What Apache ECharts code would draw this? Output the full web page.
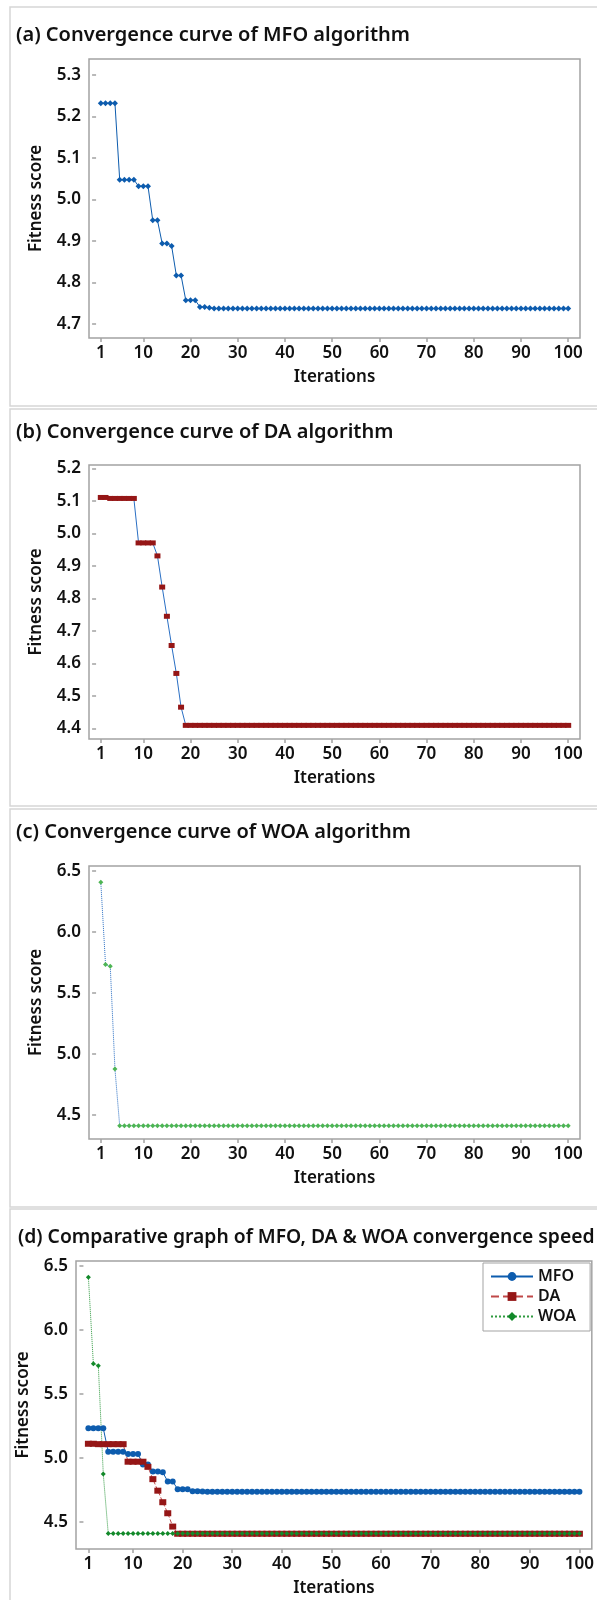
<!DOCTYPE html>
<html>
<head>
<meta charset="utf-8">
<title>Convergence curves</title>
<script src="https://cdn.jsdelivr.net/npm/echarts@6/dist/echarts.min.js"></script>
<style>
	html, body { margin: 0; padding: 0; background: #fff; }
	#chart { width: 597px; height: 1600px; }
</style>
</head>
<body>
<div id="chart"></div>
<script>
// fitness score per iteration (1..100)
var mfoScore = [
	5.232, 5.232, 5.232, 5.232, 5.048, 5.048, 5.048, 5.048, 5.032, 5.032,
	5.032, 4.950, 4.950, 4.894, 4.894, 4.888, 4.817, 4.817, 4.757, 4.757,
	4.757, 4.741, 4.741, 4.739, 4.737, 4.737, 4.737, 4.737, 4.737, 4.737,
	4.737, 4.737, 4.737, 4.737, 4.737, 4.737, 4.737, 4.737, 4.737, 4.737,
	4.737, 4.737, 4.737, 4.737, 4.737, 4.737, 4.737, 4.737, 4.737, 4.737,
	4.737, 4.737, 4.737, 4.737, 4.737, 4.737, 4.737, 4.737, 4.737, 4.737,
	4.737, 4.737, 4.737, 4.737, 4.737, 4.737, 4.737, 4.737, 4.737, 4.737,
	4.737, 4.737, 4.737, 4.737, 4.737, 4.737, 4.737, 4.737, 4.737, 4.737,
	4.737, 4.737, 4.737, 4.737, 4.737, 4.737, 4.737, 4.737, 4.737, 4.737,
	4.737, 4.737, 4.737, 4.737, 4.737, 4.737, 4.737, 4.737, 4.737, 4.737
];
var daScore = [
	5.111, 5.111, 5.108, 5.108, 5.108, 5.108, 5.108, 5.108, 4.971, 4.971,
	4.971, 4.971, 4.931, 4.835, 4.745, 4.655, 4.569, 4.465, 4.409, 4.409,
	4.409, 4.409, 4.409, 4.409, 4.409, 4.409, 4.409, 4.409, 4.409, 4.409,
	4.409, 4.409, 4.409, 4.409, 4.409, 4.409, 4.409, 4.409, 4.409, 4.409,
	4.409, 4.409, 4.409, 4.409, 4.409, 4.409, 4.409, 4.409, 4.409, 4.409,
	4.409, 4.409, 4.409, 4.409, 4.409, 4.409, 4.409, 4.409, 4.409, 4.409,
	4.409, 4.409, 4.409, 4.409, 4.409, 4.409, 4.409, 4.409, 4.409, 4.409,
	4.409, 4.409, 4.409, 4.409, 4.409, 4.409, 4.409, 4.409, 4.409, 4.409,
	4.409, 4.409, 4.409, 4.409, 4.409, 4.409, 4.409, 4.409, 4.409, 4.409,
	4.409, 4.409, 4.409, 4.409, 4.409, 4.409, 4.409, 4.409, 4.409, 4.409
];
var woaScore = [
	6.410, 5.735, 5.720, 4.875, 4.410, 4.410, 4.410, 4.410, 4.410, 4.410,
	4.410, 4.410, 4.410, 4.410, 4.410, 4.410, 4.410, 4.410, 4.410, 4.410,
	4.410, 4.410, 4.410, 4.410, 4.410, 4.410, 4.410, 4.410, 4.410, 4.410,
	4.410, 4.410, 4.410, 4.410, 4.410, 4.410, 4.410, 4.410, 4.410, 4.410,
	4.410, 4.410, 4.410, 4.410, 4.410, 4.410, 4.410, 4.410, 4.410, 4.410,
	4.410, 4.410, 4.410, 4.410, 4.410, 4.410, 4.410, 4.410, 4.410, 4.410,
	4.410, 4.410, 4.410, 4.410, 4.410, 4.410, 4.410, 4.410, 4.410, 4.410,
	4.410, 4.410, 4.410, 4.410, 4.410, 4.410, 4.410, 4.410, 4.410, 4.410,
	4.410, 4.410, 4.410, 4.410, 4.410, 4.410, 4.410, 4.410, 4.410, 4.410,
	4.410, 4.410, 4.410, 4.410, 4.410, 4.410, 4.410, 4.410, 4.410, 4.410
];

// tick labels
var xTicks = [1, 10, 20, 30, 40, 50, 60, 70, 80, 90, 100];
var yTicksA = [4.7, 4.8, 4.9, 5.0, 5.1, 5.2, 5.3];
var yTicksB = [4.4, 4.5, 4.6, 4.7, 4.8, 4.9, 5.0, 5.1, 5.2];
var yTicksC = [4.5, 5.0, 5.5, 6.0, 6.5];
var yTicksD = [4.5, 5.0, 5.5, 6.0, 6.5];

var titles = [
	'(a) Convergence curve of MFO algorithm',
	'(b) Convergence curve of DA algorithm',
	'(c) Convergence curve of WOA algorithm',
	'(d) Comparative graph of MFO, DA & WOA convergence speed'
];

var FONT = '"Noto Sans", "Open Sans", sans-serif';
var BLUE = '#0d5cae';
var RED = '#951616';
var GREEN = '#12892a';
var LIGHTGREEN = '#4db553';
var FRAME = '#a3a3a3';
var TXT = { fontFamily : FONT, fontSize : 17, fontWeight : 600, color : '#111' };

function toPairs(arr) {
	return arr.map(function(v, i) { return [i + 1, v]; });
}

function xAxisFor(idx) {
	return {
		type : 'value',
		gridIndex : idx,
		min : -1.5,
		max : 102.5,
		name : 'Iterations',
		nameLocation : 'middle',
		nameGap : 31,
		nameTextStyle : TXT,
		axisLine : { show : false },
		splitLine : { show : false },
		axisTick : { show : true, length : 4, lineStyle : { color : FRAME, width : 1.5 }, customValues : xTicks },
		axisLabel : Object.assign({ margin : 7, customValues : xTicks }, TXT)
	};
}

function yAxisFor(idx, min, max, ticks, gap) {
	return {
		type : 'value',
		gridIndex : idx,
		min : min,
		max : max,
		name : 'Fitness score',
		nameLocation : 'middle',
		nameGap : gap,
		nameTextStyle : TXT,
		axisLine : { show : false },
		splitLine : { show : false },
		axisTick : { show : true, length : 4, lineStyle : { color : FRAME, width : 1.5 }, customValues : ticks },
		axisLabel : Object.assign({
			margin : 8,
			customValues : ticks,
			formatter : function(v) { return Number(v).toFixed(1); }
		}, TXT)
	};
}

var gridBase = { show : true, borderColor : FRAME, borderWidth : 1.5, backgroundColor : '#fff', containLabel : false };

var option = {
	backgroundColor : '#fff',
	animation : false,
	title : [
		{ text : titles[0], left : 16, top : 23, size : 20 },
		{ text : titles[1], left : 16, top : 420, size : 20 },
		{ text : titles[2], left : 16, top : 820, size : 20 },
		{ text : titles[3], left : 18, top : 1226, size : 19.3 }
	].map(function(t) {
		t.padding = 0;
		t.textStyle = { fontFamily : FONT, fontSize : t.size, fontWeight : 600, color : '#111', lineHeight : 24 };
		delete t.size;
		return t;
	}),
	graphic : [
		{ type : 'rect', shape : { x : 10, y : 7, width : 592, height : 399 }, style : { fill : 'none', stroke : '#d6d6d6', lineWidth : 1.5 }, z : -10 },
		{ type : 'rect', shape : { x : 10, y : 409, width : 592, height : 397 }, style : { fill : 'none', stroke : '#d6d6d6', lineWidth : 1.5 }, z : -10 },
		{ type : 'rect', shape : { x : 10, y : 809, width : 592, height : 398 }, style : { fill : 'none', stroke : '#d6d6d6', lineWidth : 1.5 }, z : -10 },
		{ type : 'rect', shape : { x : 10, y : 1209, width : 592, height : 400 }, style : { fill : 'none', stroke : '#d6d6d6', lineWidth : 1.5 }, z : -10 }
	],
	grid : [
		Object.assign({ left : 89, top : 59, width : 491, height : 279 }, gridBase),
		Object.assign({ left : 89, top : 465, width : 491, height : 274 }, gridBase),
		Object.assign({ left : 89, top : 866, width : 491, height : 273 }, gridBase),
		Object.assign({ left : 76, top : 1261, width : 523, height : 288 }, gridBase)
	],
	xAxis : [ xAxisFor(0), xAxisFor(1), xAxisFor(2), xAxisFor(3) ],
	yAxis : [
		yAxisFor(0, 4.666, 5.339, yTicksA, 44),
		yAxisFor(1, 4.367, 5.211, yTicksB, 44),
		yAxisFor(2, 4.301, 6.543, yTicksC, 44),
		yAxisFor(3, 4.29, 6.537, yTicksD, 44)
	],
	legend : {
		data : [ 'MFO', 'DA', 'WOA' ],
		orient : 'vertical',
		left : 483,
		top : 1263,
		width : 113,
		padding : [ 4, 14, 5, 7 ],
		itemWidth : 42,
		itemHeight : 11,
		itemGap : 1,
		backgroundColor : '#fff',
		borderColor : FRAME,
		borderWidth : 1,
		borderRadius : 0,
		textStyle : Object.assign({ lineHeight : 19 }, TXT, { fontSize : 16 })
	},
	series : [
		// (a) MFO
		{
			name : 'MFO-a', type : 'line', xAxisIndex : 0, yAxisIndex : 0,
			data : toPairs(mfoScore),
			symbol : 'diamond', symbolSize : 6,
			lineStyle : { color : BLUE, width : 1 },
			itemStyle : { color : BLUE }
		},
		// (b) DA
		{
			name : 'DA-b', type : 'line', xAxisIndex : 1, yAxisIndex : 1,
			data : toPairs(daScore),
			symbol : 'rect', symbolSize : [ 6, 5 ],
			lineStyle : { color : '#2a6fc4', width : 1 },
			itemStyle : { color : RED }
		},
		// (c) WOA
		{
			name : 'WOA-c', type : 'line', xAxisIndex : 2, yAxisIndex : 2,
			data : toPairs(woaScore),
			symbol : 'diamond', symbolSize : 5,
			lineStyle : { color : '#2a6fc4', width : 1, type : 'dotted' },
			itemStyle : { color : LIGHTGREEN }
		},
		// (d) comparison
		{
			name : 'MFO', type : 'line', xAxisIndex : 3, yAxisIndex : 3,
			data : toPairs(mfoScore),
			symbol : 'circle', symbolSize : 6,
			lineStyle : { color : BLUE, width : 1 },
			itemStyle : { color : BLUE }
		},
		{
			name : 'DA', type : 'line', xAxisIndex : 3, yAxisIndex : 3,
			data : toPairs(daScore),
			symbol : 'rect', symbolSize : [ 7, 6 ],
			lineStyle : { color : '#c04848', width : 1, type : 'dashed' },
			itemStyle : { color : RED }
		},
		{
			name : 'WOA', type : 'line', xAxisIndex : 3, yAxisIndex : 3,
			data : toPairs(woaScore),
			symbol : 'diamond', symbolSize : 5,
			lineStyle : { color : '#2f9a3f', width : 1, type : 'dotted' },
			itemStyle : { color : GREEN }
		}
	]
};

var myChart = echarts.init(document.getElementById('chart'));
myChart.setOption(option);
</script>
</body>
</html>
